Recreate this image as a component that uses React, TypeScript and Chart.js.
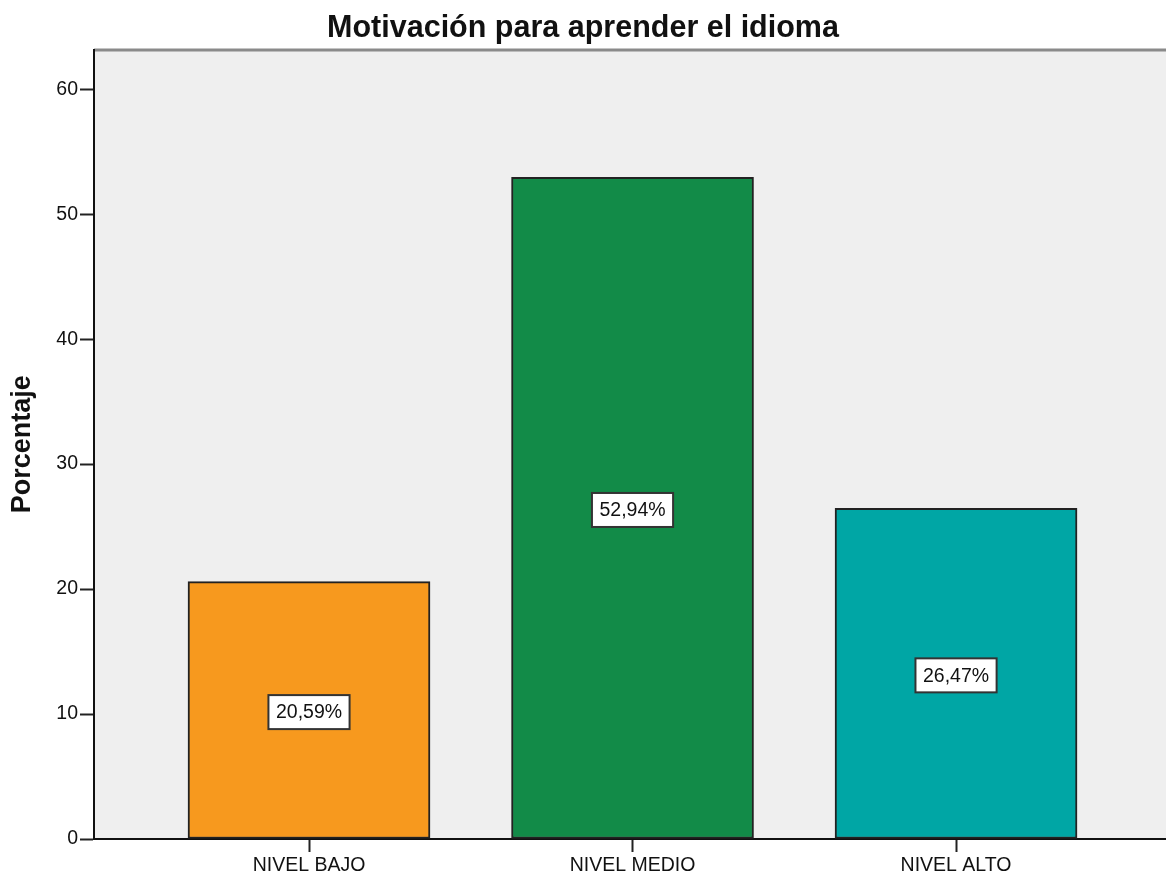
import React, { useEffect, useRef } from "react";
import { Chart, registerables } from "chart.js";

Chart.register(...registerables);

const categories = ["NIVEL BAJO", "NIVEL MEDIO", "NIVEL ALTO"];
const percentages = [20.59, 52.94, 26.47];
const barColors = ["#F7991E", "#128B48", "#00A6A5"];
const yTickValues = [0, 10, 20, 30, 40, 50, 60];
const titleText = "Motivación para aprender el idioma";
const yAxisTitle = "Porcentaje";

const FONT = '"Liberation Sans", Arial, sans-serif';

const plotBackground = {
  id: "plotBackground",
  beforeDraw(chart: any) {
    const { ctx, chartArea } = chart;
    ctx.save();
    ctx.fillStyle = "#EFEFEF";
    ctx.fillRect(chartArea.left, chartArea.top, chartArea.right - chartArea.left, chartArea.bottom - chartArea.top);
    ctx.strokeStyle = "#8A8A8A";
    ctx.lineWidth = 3;
    ctx.beginPath();
    ctx.moveTo(chartArea.left, chartArea.top + 0.5);
    ctx.lineTo(chartArea.right, chartArea.top + 0.5);
    ctx.stroke();
    ctx.restore();
  },
};

const valueLabels = {
  id: "valueLabels",
  afterDatasetsDraw(chart: any) {
    const { ctx } = chart;
    const meta = chart.getDatasetMeta(0);
    ctx.save();
    ctx.font = `19.5px ${FONT}`;
    ctx.textAlign = "center";
    ctx.textBaseline = "middle";
    meta.data.forEach((bar: any, i: number) => {
      const text = percentages[i].toFixed(2).replace(".", ",") + "%";
      const cx = bar.x;
      const cy = (bar.y + bar.base) / 2 + 2;
      const w = ctx.measureText(text).width + 15;
      const h = 34;
      ctx.fillStyle = "#FFFFFF";
      ctx.fillRect(cx - w / 2, cy - h / 2, w, h);
      ctx.strokeStyle = "#333333";
      ctx.lineWidth = 2;
      ctx.strokeRect(cx - w / 2, cy - h / 2, w, h);
      ctx.fillStyle = "#111111";
      ctx.fillText(text, cx, cy + 1);
    });
    ctx.restore();
  },
};

export default function App() {
  const ref = useRef<HTMLCanvasElement>(null);

  useEffect(() => {
    const canvas = ref.current;
    if (!canvas) return;
    const chart = new Chart(canvas, {
      type: "bar",
      data: {
        datasets: [
          {
            data: percentages.map((v, i) => ({ x: i, y: v })),
            backgroundColor: barColors,
            borderColor: "#222222",
            borderWidth: 2,
            borderSkipped: false,
            barThickness: 242,
          } as any,
        ],
      },
      plugins: [plotBackground, valueLabels],
      options: {
        responsive: false,
        animation: false,
        events: [],
        layout: { padding: { left: 0, right: 0, top: 0, bottom: 0 } },
        plugins: {
          legend: { display: false },
          tooltip: { enabled: false },
          title: {
            display: true,
            text: titleText,
            color: "#111111",
            font: { family: FONT, size: 30.5, weight: "bold" },
            padding: { top: 10, bottom: 3 },
          },
        },
        scales: {
          x: {
            type: "linear",
            offset: false,
            min: -0.6646,
            max: 2.649,
            afterBuildTicks: (scale: any) => {
              scale.ticks = categories.map((_, i) => ({ value: i }));
            },
            afterFit: (scale: any) => {
              scale.height = 37;
            },
            ticks: {
              autoSkip: false,
              maxRotation: 0,
              padding: 2,
              color: "#111111",
              font: { family: FONT, size: 19.5 },
              callback: (v: any) => categories[v as number] ?? "",
            },
            grid: {
              offset: false,
              drawOnChartArea: false,
              drawTicks: true,
              tickLength: 13,
              tickWidth: 2,
              color: "#222222",
            },
            border: { display: true, color: "#111111", width: 2 },
          },
          y: {
            min: 0,
            max: 63.17,
            afterBuildTicks: (scale: any) => {
              scale.ticks = yTickValues.map((v) => ({ value: v }));
            },
            afterFit: (scale: any) => {
              scale.width = 94;
            },
            ticks: {
              padding: 2,
              color: "#111111",
              font: { family: FONT, size: 19.5 },
            },
            grid: {
              drawOnChartArea: false,
              drawTicks: true,
              tickLength: 14,
              tickWidth: 2,
              color: "#222222",
            },
            border: { display: true, color: "#111111", width: 2 },
            title: {
              display: true,
              text: yAxisTitle,
              color: "#111111",
              font: { family: FONT, size: 27, weight: "bold" },
              padding: { top: 6, bottom: 0 },
            },
          },
        },
      } as any,
    });
    return () => chart.destroy();
  }, []);

  return (
    <div style={{ position: "fixed", left: 0, top: 0, width: 1166, height: 876, background: "#fff" }}>
      <canvas ref={ref} width={1166} height={876} style={{ display: "block" }} />
    </div>
  );
}
